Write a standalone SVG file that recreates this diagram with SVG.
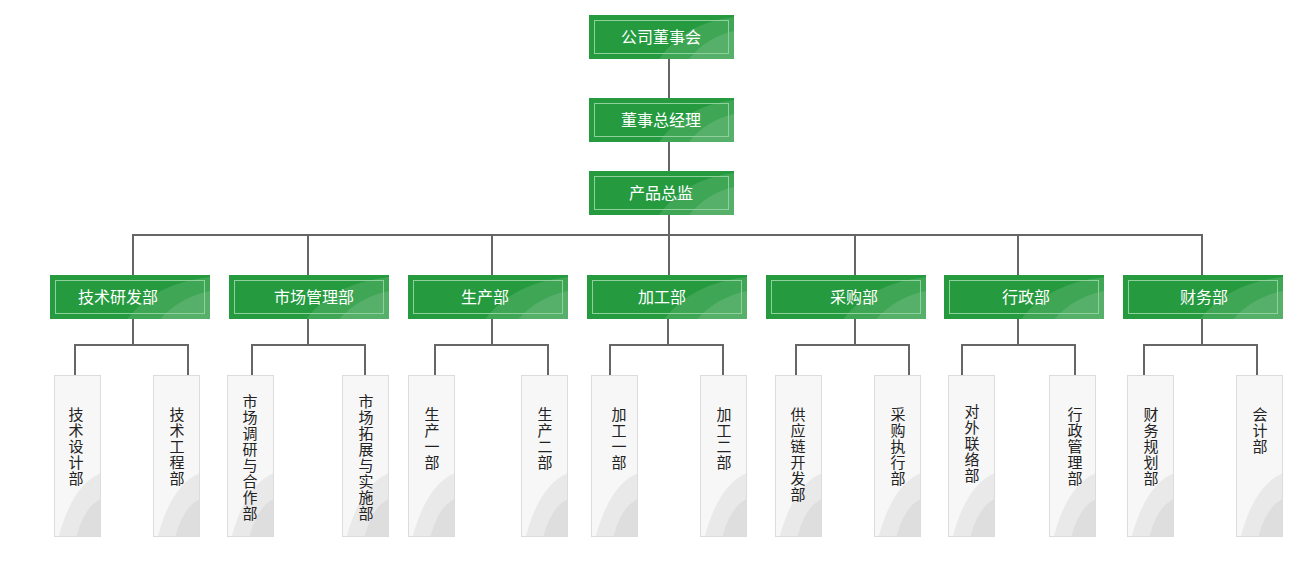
<svg xmlns="http://www.w3.org/2000/svg" width="1300" height="575" viewBox="0 0 1300 575">
<defs>
<style>
.gbox{fill:#259a3f;}
.ginner{fill:none;stroke:#8fd19c;stroke-width:1;}
.ghl1{fill:#ffffff;fill-opacity:0.12;}
.ghl2{fill:#ffffff;fill-opacity:0.12;}
.gtxt{font-family:"Noto Sans CJK SC","Microsoft YaHei",sans-serif;font-size:16px;fill:#ffffff;text-anchor:middle;}
.cbox{fill:#f7f7f7;stroke:#dcdcdc;stroke-width:1;}
.chl1{fill:#e9e9e9;}
.chl2{fill:#dedede;}
.ctxt{font-family:"Noto Sans CJK SC","Microsoft YaHei",sans-serif;font-size:15px;fill:#222222;writing-mode:vertical-rl;text-orientation:upright;letter-spacing:1px;}
.conn{fill:none;stroke:#666666;stroke-width:2;}
</style>
<symbol id="gdeco" viewBox="0 0 145 44" preserveAspectRatio="none">
<path class="ghl1" d="M70 44 Q95 8 145 2 L145 44 Z"/>
<path class="ghl2" d="M100 44 Q118 22 145 16 L145 44 Z"/>
</symbol>
<symbol id="cdeco" viewBox="0 0 46 161" preserveAspectRatio="none">
<path class="chl1" d="M4 161 Q18 110 46 98 L46 161 Z"/>
<path class="chl2" d="M22 161 Q30 132 46 124 L46 161 Z"/>
</symbol>
</defs>
<rect width="1300" height="575" fill="#ffffff"/>
<g id="connectors">
<path class="conn" d="M669 59 V98 M669 142 V171 M669 215 V275"/>
<path class="conn" d="M133 275 V235 H1202 V275 M308 235 V275 M492 235 V275 M855 235 V275 M1018 235 V275"/>
<path class="conn" d="M133 319 V345 M75 375 V345 H188 V375"/>
<path class="conn" d="M308 319 V345 M252 375 V345 H365 V375"/>
<path class="conn" d="M492 319 V345 M435 375 V345 H548 V375"/>
<path class="conn" d="M668 319 V345 M610 375 V345 H723 V375"/>
<path class="conn" d="M855 319 V345 M796 375 V345 H909 V375"/>
<path class="conn" d="M1018 319 V345 M962 375 V345 H1075 V375"/>
<path class="conn" d="M1202 319 V345 M1144 375 V345 H1257 V375"/>
</g>
<g id="n-board">
<rect class="gbox" x="589" y="15" width="145" height="44"/>
<use href="#gdeco" x="589" y="15" width="145" height="44"/>
<rect class="ginner" x="594.5" y="20.5" width="134" height="33"/>
<text class="gtxt" x="661" y="43">公司董事会</text>
</g>
<g id="n-gm">
<rect class="gbox" x="589" y="98" width="145" height="44"/>
<use href="#gdeco" x="589" y="98" width="145" height="44"/>
<rect class="ginner" x="594.5" y="103.5" width="134" height="33"/>
<text class="gtxt" x="661" y="126">董事总经理</text>
</g>
<g id="n-pd">
<rect class="gbox" x="589" y="171" width="145" height="44"/>
<use href="#gdeco" x="589" y="171" width="145" height="44"/>
<rect class="ginner" x="594.5" y="176.5" width="134" height="33"/>
<text class="gtxt" x="661" y="199">产品总监</text>
</g>
<g id="d-tech">
<rect class="gbox" x="50" y="275" width="160" height="44"/>
<use href="#gdeco" x="50" y="275" width="160" height="44"/>
<rect class="ginner" x="55.5" y="280.5" width="149" height="33"/>
<text class="gtxt" x="118" y="303">技术研发部</text>
</g>
<g id="d-market">
<rect class="gbox" x="229" y="275" width="160" height="44"/>
<use href="#gdeco" x="229" y="275" width="160" height="44"/>
<rect class="ginner" x="234.5" y="280.5" width="149" height="33"/>
<text class="gtxt" x="314" y="303">市场管理部</text>
</g>
<g id="d-prod">
<rect class="gbox" x="408" y="275" width="160" height="44"/>
<use href="#gdeco" x="408" y="275" width="160" height="44"/>
<rect class="ginner" x="413.5" y="280.5" width="149" height="33"/>
<text class="gtxt" x="485" y="303">生产部</text>
</g>
<g id="d-proc">
<rect class="gbox" x="587" y="275" width="160" height="44"/>
<use href="#gdeco" x="587" y="275" width="160" height="44"/>
<rect class="ginner" x="592.5" y="280.5" width="149" height="33"/>
<text class="gtxt" x="662" y="303">加工部</text>
</g>
<g id="d-purch">
<rect class="gbox" x="766" y="275" width="160" height="44"/>
<use href="#gdeco" x="766" y="275" width="160" height="44"/>
<rect class="ginner" x="771.5" y="280.5" width="149" height="33"/>
<text class="gtxt" x="854" y="303">采购部</text>
</g>
<g id="d-admin">
<rect class="gbox" x="944" y="275" width="160" height="44"/>
<use href="#gdeco" x="944" y="275" width="160" height="44"/>
<rect class="ginner" x="949.5" y="280.5" width="149" height="33"/>
<text class="gtxt" x="1026" y="303">行政部</text>
</g>
<g id="d-fin">
<rect class="gbox" x="1123" y="275" width="160" height="44"/>
<use href="#gdeco" x="1123" y="275" width="160" height="44"/>
<rect class="ginner" x="1128.5" y="280.5" width="149" height="33"/>
<text class="gtxt" x="1204" y="303">财务部</text>
</g>
<g id="c-techdesign">
<rect class="cbox" x="54.5" y="375.5" width="46" height="161"/>
<use href="#cdeco" x="55" y="376" width="45" height="160"/>
<text class="ctxt" x="76" y="407">技术设计部</text>
</g>
<g id="c-techeng">
<rect class="cbox" x="153.5" y="375.5" width="46" height="161"/>
<use href="#cdeco" x="154" y="376" width="45" height="160"/>
<text class="ctxt" x="177" y="407">技术工程部</text>
</g>
<g id="c-mktres">
<rect class="cbox" x="227.5" y="375.5" width="46" height="161"/>
<use href="#cdeco" x="228" y="376" width="45" height="160"/>
<text class="ctxt" x="250" y="394">市场调研与合作部</text>
</g>
<g id="c-mktexp">
<rect class="cbox" x="342.5" y="375.5" width="46" height="161"/>
<use href="#cdeco" x="343" y="376" width="45" height="160"/>
<text class="ctxt" x="366" y="394">市场拓展与实施部</text>
</g>
<g id="c-prod1">
<rect class="cbox" x="408.5" y="375.5" width="46" height="161"/>
<use href="#cdeco" x="409" y="376" width="45" height="160"/>
<text class="ctxt" x="432" y="407">生产一部</text>
</g>
<g id="c-prod2">
<rect class="cbox" x="521.5" y="375.5" width="46" height="161"/>
<use href="#cdeco" x="522" y="376" width="45" height="160"/>
<text class="ctxt" x="545" y="407">生产二部</text>
</g>
<g id="c-proc1">
<rect class="cbox" x="591.5" y="375.5" width="46" height="161"/>
<use href="#cdeco" x="592" y="376" width="45" height="160"/>
<text class="ctxt" x="619" y="407">加工一部</text>
</g>
<g id="c-proc2">
<rect class="cbox" x="700.5" y="375.5" width="46" height="161"/>
<use href="#cdeco" x="701" y="376" width="45" height="160"/>
<text class="ctxt" x="724" y="407">加工二部</text>
</g>
<g id="c-supply">
<rect class="cbox" x="775.5" y="375.5" width="46" height="161"/>
<use href="#cdeco" x="776" y="376" width="45" height="160"/>
<text class="ctxt" x="798" y="407">供应链开发部</text>
</g>
<g id="c-purexec">
<rect class="cbox" x="874.5" y="375.5" width="46" height="161"/>
<use href="#cdeco" x="875" y="376" width="45" height="160"/>
<text class="ctxt" x="898" y="407">采购执行部</text>
</g>
<g id="c-liaison">
<rect class="cbox" x="948.5" y="375.5" width="46" height="161"/>
<use href="#cdeco" x="949" y="376" width="45" height="160"/>
<text class="ctxt" x="972" y="404">对外联络部</text>
</g>
<g id="c-adminmgmt">
<rect class="cbox" x="1049.5" y="375.5" width="46" height="161"/>
<use href="#cdeco" x="1050" y="376" width="45" height="160"/>
<text class="ctxt" x="1075" y="407">行政管理部</text>
</g>
<g id="c-finplan">
<rect class="cbox" x="1127.5" y="375.5" width="46" height="161"/>
<use href="#cdeco" x="1128" y="376" width="45" height="160"/>
<text class="ctxt" x="1151" y="407">财务规划部</text>
</g>
<g id="c-acct">
<rect class="cbox" x="1236.5" y="375.5" width="46" height="161"/>
<use href="#cdeco" x="1237" y="376" width="45" height="160"/>
<text class="ctxt" x="1260" y="407">会计部</text>
</g>
</svg>
